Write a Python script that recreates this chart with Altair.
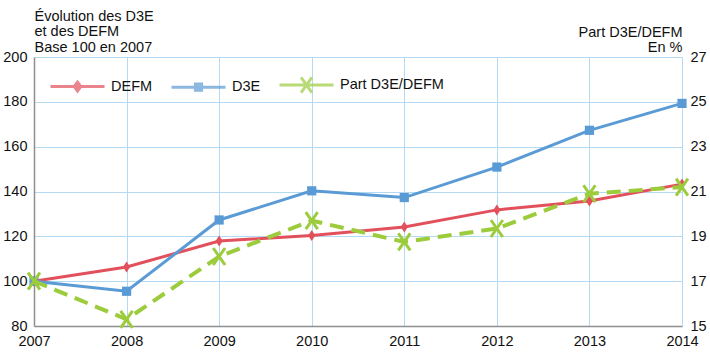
import altair as alt
import pandas as pd

years = [2007, 2008, 2009, 2010, 2011, 2012, 2013, 2014]
defm = [100, 106.3, 117.9, 120.4, 124.2, 131.8, 135.8, 143.3]
d3e = [100, 95.5, 127.3, 140.3, 137.3, 150.9, 167.3, 179.3]
part = [17.0, 15.3, 18.1, 19.7, 18.75, 19.35, 20.9, 21.2]

series_names = ["DEFM", "D3E", "Part D3E/DEFM"]
colors = ["#e2505c", "#5b9bd5", "#9ccc3c"]
left_ticks = [80, 100, 120, 140, 160, 180, 200]
right_ticks = [15, 17, 19, 21, 23, 25, 27]

FONT = "Liberation Sans"
FS = 14.5
GRID = "#b3daf2"
AXIS = "#8f8f8f"

diamond_path = "M0,-1L0.65,0L0,1L-0.65,0Z"
x_path = "M-0.7,-1L0.7,1M-0.7,1L0.7,-1"

legend_paths = [
    "M-1,0L1,0M0,-0.16L0.12,0L0,0.16L-0.12,0Z",
    "M-1,0L1,0M-0.115,-0.115L0.115,-0.115L0.115,0.115L-0.115,0.115Z",
    "M-1,0L1,0M-0.2,-0.28L0.2,0.28M-0.2,0.28L0.2,-0.28",
]

rows = []
for y, a, b in zip(years, defm, d3e):
    rows.append({"year": y, "series": "DEFM", "value": a, "col": colors[0], "shp": diamond_path, "sz": 121})
    rows.append({"year": y, "series": "D3E", "value": b, "col": colors[1], "shp": "square", "sz": 85})
df_left = pd.DataFrame(rows)
df_right = pd.DataFrame({"year": years, "value": part, "series": "Part D3E/DEFM"})

x_enc = alt.X(
    "year:Q",
    scale=alt.Scale(domain=[2007, 2014], nice=False, zero=False),
    axis=alt.Axis(
        values=years, format="d", title=None, grid=True, gridColor=GRID, gridWidth=1,
        domainColor=AXIS, domainWidth=1.5, ticks=False, labelPadding=8,
        labelFlush=False, labelFontSize=FS, labelColor="#111",
    ),
)

y_left = alt.Y(
    "value:Q",
    scale=alt.Scale(domain=[80, 200], nice=False, zero=False),
    axis=alt.Axis(
        values=left_ticks, title=["Évolution des D3E", "et des DEFM", "Base 100 en 2007"],
        titleAngle=0, titleAlign="left", titleBaseline="alphabetic", titleX=0, titleY=-37,
        titleFontSize=FS, titleFontWeight="normal", titleLineHeight=15.5, titleColor="#111",
        grid=True, gridColor=GRID, gridWidth=1, domainColor=AXIS, domainWidth=1.5,
        ticks=False, labelPadding=7, labelFontSize=FS, labelColor="#111",
    ),
)

y_right = alt.Y(
    "value:Q",
    scale=alt.Scale(domain=[15, 27], nice=False, zero=False),
    axis=alt.Axis(
        orient="right", values=right_ticks, title=["Part D3E/DEFM", "En %"],
        titleAngle=0, titleAlign="right", titleBaseline="alphabetic", titleX=0, titleY=-21,
        titleFontSize=FS, titleFontWeight="normal", titleLineHeight=15.5, titleColor="#111",
        grid=False, domain=False, ticks=False, labelPadding=8, labelFontSize=FS, labelColor="#111",
    ),
)

leg = alt.Legend(
    title=None, orient="none", legendX=15, legendY=-1, direction="horizontal",
    symbolSize=2916, symbolStrokeWidth=3, labelFontSize=FS, labelOffset=5,
    columnPadding=12, padding=0, labelColor="#111", labelFont=FONT,
)

legend_layer = alt.Chart(df_left).transform_filter("false").mark_point(
    filled=True, strokeWidth=3
).encode(
    x=x_enc,
    y=y_left,
    fill=alt.Fill("series:N", scale=alt.Scale(domain=series_names, range=colors), legend=leg),
    stroke=alt.Stroke("series:N", scale=alt.Scale(domain=series_names, range=colors), legend=leg),
    shape=alt.Shape("series:N", scale=alt.Scale(domain=series_names, range=legend_paths), legend=leg),
)

line_left = alt.Chart(df_left).mark_line(strokeWidth=3).encode(
    x=x_enc,
    y=y_left,
    color=alt.Color("col:N", scale=None),
    detail="series:N",
)
pts_left = alt.Chart(df_left).mark_point(filled=True, opacity=1).encode(
    x=x_enc,
    y=y_left,
    color=alt.Color("col:N", scale=None),
    shape=alt.Shape("shp:N", scale=None),
    size=alt.Size("sz:Q", scale=None),
)

left = alt.layer(legend_layer, line_left, pts_left)

line_right = alt.Chart(df_right).mark_line(
    strokeWidth=4, strokeDash=[14, 8], color=colors[2]
).encode(x=x_enc, y=y_right)
pts_right = alt.Chart(df_right).mark_point(
    filled=False, size=289, strokeWidth=3, shape=x_path, color=colors[2], opacity=1
).encode(x=x_enc, y=y_right)
right = alt.layer(line_right, pts_right)

chart = alt.layer(left, right).resolve_scale(
    y="independent", fill="independent", stroke="independent", shape="independent", color="independent"
).properties(
    width=648, height=269,
    autosize=alt.AutoSizeParams(type="none"),
    padding={"left": 34, "top": 57, "right": 28, "bottom": 29},
).configure(font=FONT).configure_view(strokeWidth=0)

chart.save("out.html", embed_options={"renderer": "svg", "actions": False})
